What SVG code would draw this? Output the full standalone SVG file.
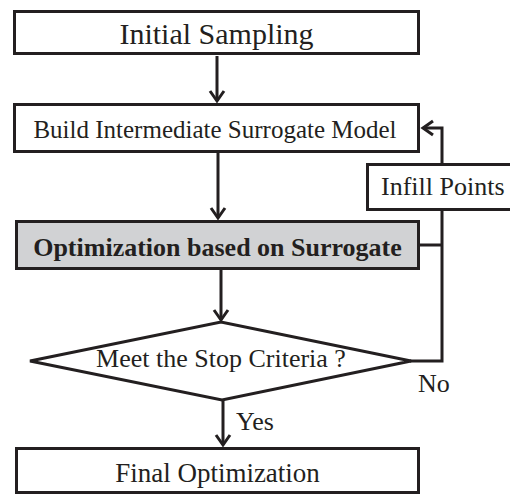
<svg xmlns="http://www.w3.org/2000/svg" width="510" height="496" viewBox="0 0 510 496">
<defs>
<marker id="ah" markerUnits="userSpaceOnUse" markerWidth="20" markerHeight="20" viewBox="-12 -10 14 20" refX="0" refY="0" orient="auto">
<path d="M-10,-7 L0,0 L-10,7" fill="none" stroke="#231f20" stroke-width="3" stroke-linejoin="miter"/>
</marker>
<style>
.box{fill:#fff;stroke:#231f20;stroke-width:3}
.gray{fill:#d1d2d4}
.ln{fill:none;stroke:#231f20;stroke-width:3}
.t{font-family:"Liberation Serif","Times New Roman",serif;font-size:26px;fill:#231f20}
.b{font-weight:bold}
</style>
</defs>
<rect width="510" height="496" fill="#fff"/>
<g id="connectors">
<line class="ln" x1="217" y1="56" x2="217" y2="101" marker-end="url(#ah)"/>
<line class="ln" x1="218" y1="153" x2="218" y2="218" marker-end="url(#ah)"/>
<line class="ln" x1="221" y1="270" x2="221" y2="320" marker-end="url(#ah)"/>
<line class="ln" x1="223" y1="400" x2="223" y2="445" marker-end="url(#ah)"/>
<polyline class="ln" points="410,361 442,361 442,128 423,128" marker-end="url(#ah)"/>
<line class="ln" x1="420" y1="245" x2="442" y2="245"/>
<text class="t" x="236" y="430">Yes</text>
<text class="t" x="418" y="392">No</text>
</g>
<g id="initial-sampling">
<rect class="box" x="14.5" y="11.5" width="404" height="42"/>
<text class="t" x="216.5" y="44" text-anchor="middle" style="font-size:30px">Initial Sampling</text>
</g>
<g id="build-model">
<rect class="box" x="14.5" y="104.5" width="404" height="47"/>
<text class="t" x="215" y="138" text-anchor="middle" style="font-size:25px">Build Intermediate Surrogate Model</text>
</g>
<g id="optimization">
<rect class="box gray" x="16.5" y="221.5" width="402" height="47"/>
<text class="t b" x="217.5" y="256" text-anchor="middle">Optimization based on Surrogate</text>
</g>
<g id="stop-criteria">
<polygon class="box" points="30,361 221,322 411,361 222,400"/>
<text class="t" x="221" y="367" text-anchor="middle">Meet the Stop Criteria ?</text>
</g>
<g id="infill-points">
<rect class="box" x="367.5" y="164.5" width="150" height="45"/>
<text class="t" x="381" y="195">Infill Points</text>
</g>
<g id="final-optimization">
<rect class="box" x="16.5" y="448.5" width="402" height="44"/>
<text class="t" x="217.5" y="482" text-anchor="middle" style="font-size:27px">Final Optimization</text>
</g>
</svg>
